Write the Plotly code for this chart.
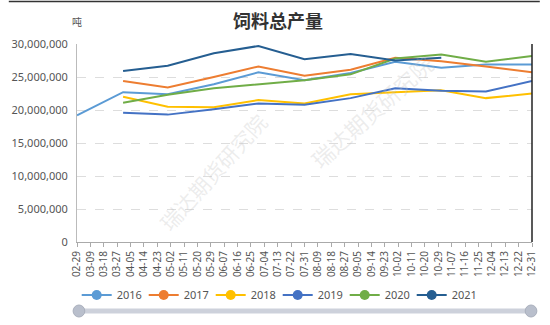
import plotly.graph_objects as go
import pandas as pd

# ---- data ----
tick_labels = ["02-29", "03-09", "03-18", "03-27", "04-05", "04-14", "04-23", "05-02", "05-11",
               "05-20", "05-29", "06-07", "06-16", "06-25", "07-04", "07-13", "07-22", "07-31",
               "08-09", "08-18", "08-27", "09-05", "09-14", "09-23", "10-02", "10-11", "10-20",
               "10-29", "11-07", "11-16", "11-25", "12-04", "12-13", "12-22", "12-31"]
all_days = [d.strftime("%m-%d") for d in pd.date_range("2020-02-29", "2020-12-31", freq="D")]

dates_2016 = ["02-29", "03-31", "04-30", "05-31", "06-30", "07-31", "08-31", "09-30", "10-31", "11-30", "12-31"]
dates_full = ["03-31", "04-30", "05-31", "06-30", "07-31", "08-31", "09-30", "10-31", "11-30", "12-31"]
dates_2021 = ["03-31", "04-30", "05-31", "06-30", "07-31", "08-31", "09-30", "10-31"]

v2016 = [19200000, 22700000, 22400000, 23900000, 25700000, 24500000, 25600000, 27300000, 26400000, 26900000, 26900000]
v2017 = [24400000, 23400000, 25000000, 26600000, 25200000, 26100000, 27900000, 27400000, 26600000, 25700000]
v2018 = [22000000, 20500000, 20400000, 21500000, 21000000, 22400000, 22700000, 23000000, 21800000, 22500000]
v2019 = [19600000, 19300000, 20100000, 21000000, 20800000, 21800000, 23300000, 22900000, 22800000, 24400000]
v2020 = [21100000, 22300000, 23300000, 23900000, 24500000, 25400000, 27800000, 28400000, 27300000, 28200000]
v2021 = [25900000, 26700000, 28600000, 29700000, 27700000, 28500000, 27500000, 27900000]

series = [
    ("2016", dates_2016, v2016, "#5B9BD5"),
    ("2017", dates_full, v2017, "#ED7D31"),
    ("2018", dates_full, v2018, "#FFC000"),
    ("2019", dates_full, v2019, "#4472C4"),
    ("2020", dates_full, v2020, "#70AD47"),
    ("2021", dates_2021, v2021, "#255E91"),
]

font_family = "Noto Sans CJK SC, Noto Sans, sans-serif"
light_font = "Noto Sans, Open Sans, sans-serif"

fig = go.Figure()
for name, xs, ys, col in series:
    fig.add_trace(go.Scatter(x=xs, y=ys, mode="lines", name=name, legendgroup=name,
                             line=dict(color=col, width=2), showlegend=False))
    fig.add_trace(go.Scatter(x=[None], y=[None], mode="lines+markers", name=name, legendgroup=name,
                             line=dict(color=col, width=2), marker=dict(color=col, size=10),
                             showlegend=True))

PLOT_L, PLOT_R, PLOT_T, PLOT_B = 70, 537, 44, 242
H = PLOT_B - PLOT_T
W = PLOT_R - PLOT_L

def py(px):
    return (PLOT_B - px) / H

def pxx(px):
    return (px - PLOT_L) / W

shapes = []
# slider bar
shapes.append(dict(type="line", xref="paper", yref="paper", x0=pxx(72), x1=pxx(537),
                   y0=py(311), y1=py(311), line=dict(color="#cdd1db", width=5)))
for cx in (72, 536):
    shapes.append(dict(type="circle", xref="paper", yref="paper",
                       x0=pxx(cx - 6), x1=pxx(cx + 6), y0=py(317), y1=py(305),
                       fillcolor="#b9bfcc", line=dict(color="#aab0bd", width=1)))
# frame lines
shapes.append(dict(type="line", xref="paper", yref="paper", x0=1.0, x1=1.0,
                   y0=0, y1=1.0, line=dict(color="#222", width=1.5)))
shapes.append(dict(type="line", xref="paper", yref="paper", x0=pxx(0), x1=pxx(545),
                   y0=py(1.5), y1=py(1.5), line=dict(color="#333", width=1.5)))

annotations = [
    dict(text="吨", xref="paper", yref="paper", x=0, y=py(22), showarrow=False,
         font=dict(size=10, color="#555", family=font_family), xanchor="center", yanchor="middle"),
    dict(text="瑞达期货研究院", xref="paper", yref="paper", x=pxx(145), y=py(105), showarrow=False,
         textangle=-48, font=dict(size=21, color="rgba(190,190,190,0.28)", family=font_family)),
    dict(text="瑞达期货研究院", xref="paper", yref="paper", x=pxx(372), y=py(177), showarrow=False,
         textangle=-42, font=dict(size=22, color="rgba(190,190,190,0.28)", family=font_family)),
]

fig.update_layout(
    width=550, height=325,
    margin=dict(l=PLOT_L, r=550 - PLOT_R, t=PLOT_T, b=325 - PLOT_B),
    paper_bgcolor="white", plot_bgcolor="white",
    font=dict(family=light_font, color="#666"),
    title=dict(text="<b>饲料总产量</b>", xref="container", yref="container",
               x=278 / 550, y=1 - 22 / 325, xanchor="center", yanchor="middle",
               font=dict(size=18, color="#333", family=font_family)),
    showlegend=True,
    legend=dict(orientation="h", x=pxx(276), y=py(295), xanchor="center", yanchor="middle",
                font=dict(size=11, color="#555", family=light_font), itemwidth=30,
                entrywidth=22, entrywidthmode="pixels", bgcolor="rgba(0,0,0,0)",
                tracegroupgap=0),
    xaxis=dict(type="category", categoryorder="array", categoryarray=all_days,
               range=[0, len(all_days) - 1], tickmode="array", tickvals=tick_labels,
               ticktext=tick_labels, tickangle=-90, tickfont=dict(size=10, color="#555"),
               showgrid=False, showline=True, linecolor="#aaa", linewidth=1,
               ticks="outside", ticklen=4, tickcolor="#aaa", zeroline=False),
    yaxis=dict(range=[0, 30000000], tickvals=[0, 5000000, 10000000, 15000000, 20000000, 25000000, 30000000],
               ticktext=["0", "5,000,000", "10,000,000", "15,000,000", "20,000,000", "25,000,000", "30,000,000"],
               tickfont=dict(size=11, color="#555"), showgrid=True, gridcolor="#ddd", griddash="dash",
               showline=True, linecolor="#bbb", linewidth=1, zeroline=False, ticks="", ticklabelstandoff=6),
    shapes=shapes, annotations=annotations,
)

fig.write_html("out.html")
